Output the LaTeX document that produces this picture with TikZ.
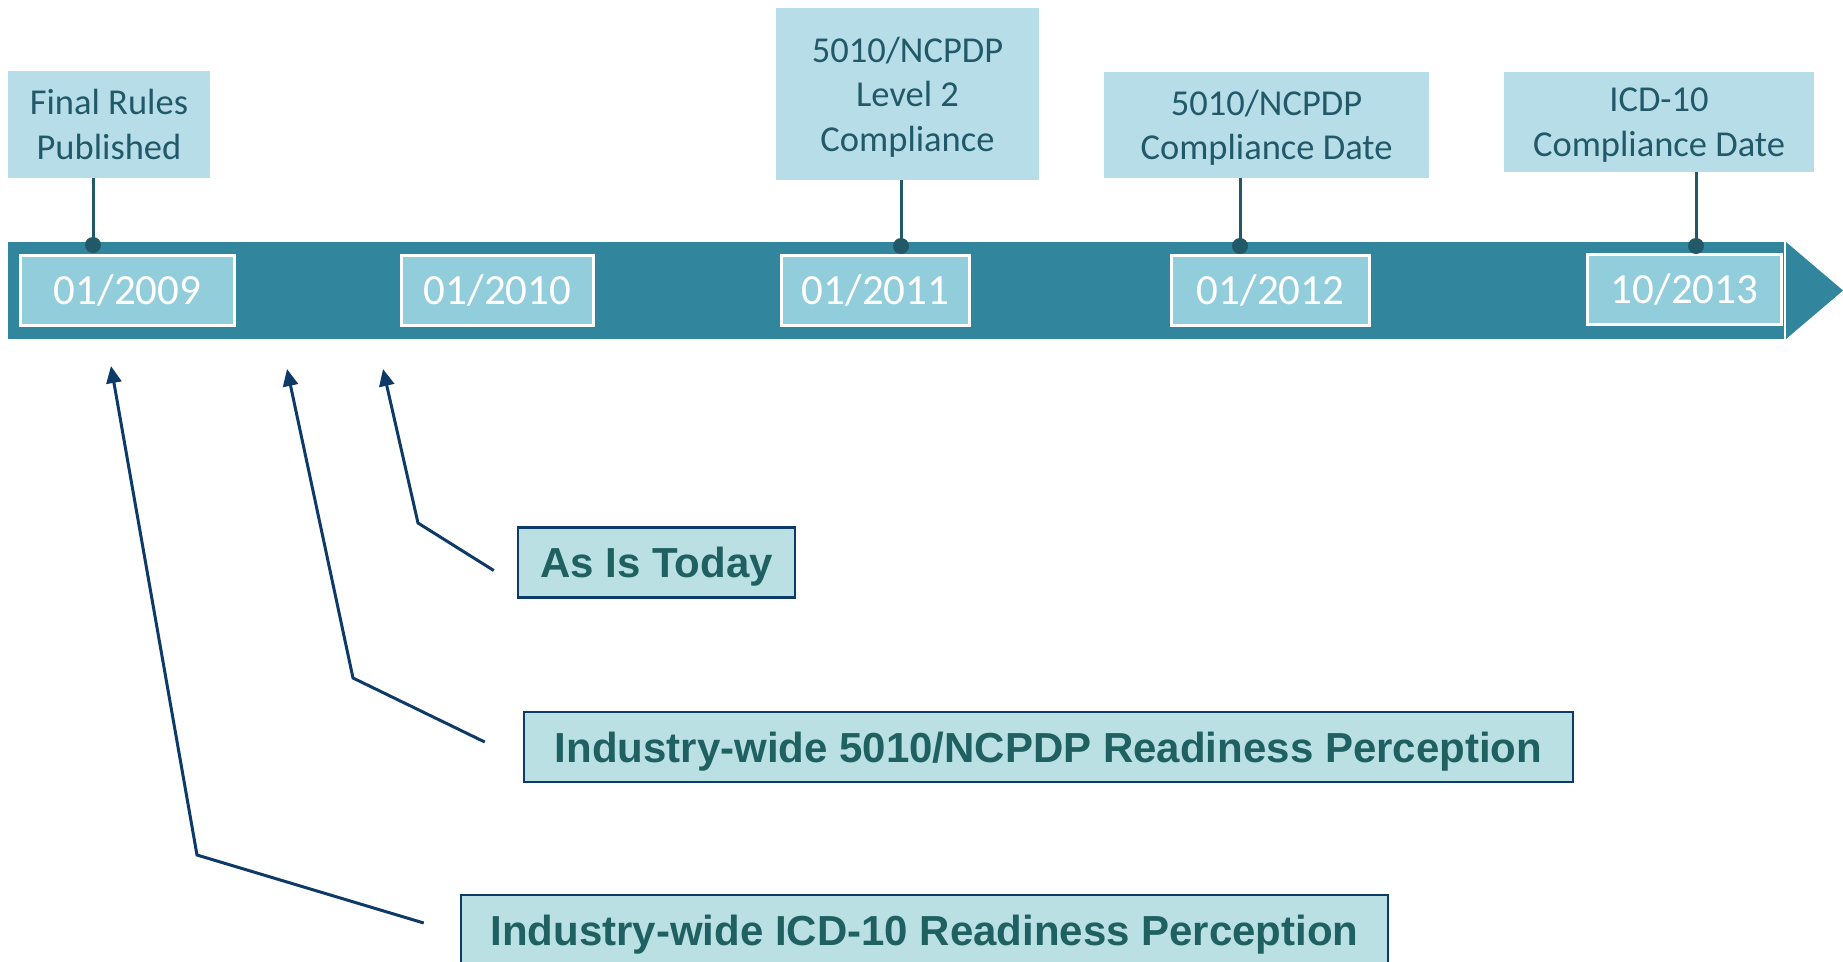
\documentclass[tikz,border=0pt]{standalone}
\usepackage{fontspec}
\setmainfont{Carlito}
\newfontfamily\arialbf{Liberation Sans}[BoldFont={Liberation Sans Bold}]
\usetikzlibrary{arrows.meta}

\definecolor{barfill}{HTML}{31859C}
\definecolor{datefill}{HTML}{92CDDC}
\definecolor{eventfill}{HTML}{B7DEE8}
\definecolor{tealtext}{HTML}{215968}
\definecolor{readyfill}{HTML}{BAE0E4}
\definecolor{readytext}{HTML}{1F6060}
\definecolor{navy}{HTML}{0E3A68}

\tikzset{
  datebox/.style={draw=white, line width=3pt, fill=datefill, text=white, minimum height=70pt, inner sep=0pt, font=\fontsize{43}{50}\selectfont},
  eventbox/.style={fill=eventfill, text=tealtext, align=center, inner sep=0pt, text depth=0pt, font=\fontsize{36.5}{44.5}\selectfont},
  readybox/.style={draw=navy, line width=2.5pt, fill=readyfill, text=readytext, minimum height=70pt, inner sep=0pt, text depth=0pt, font=\arialbf\bfseries\fontsize{42}{50}\selectfont},
  stem/.style={tealtext, line width=3pt},
  pointer/.style={navy, line width=3pt, -{Triangle[length=17pt,width=15pt]}},
}

\begin{document}
\begin{tikzpicture}[x=1pt,y=-1pt]
    \path[use as bounding box, clip] (0,0) rectangle (1843,961);

    \node[fill=barfill, minimum width=1776pt, minimum height=97pt, inner sep=0pt, anchor=north west] (bar) at (8,242) {};
    \fill[barfill] (1786,242) -- (1843,290.5) -- (1786,339) -- cycle;

    \node[datebox, minimum width=214pt] (d1) at (127.5,290.5) {01/2009};
    \node[datebox, minimum width=192pt] (d2) at (497.5,290.5) {01/2010};
    \node[datebox, minimum width=188pt] (d3) at (875.5,290.5) {01/2011};
    \node[datebox, minimum width=198pt] (d4) at (1270.5,290.5) {01/2012};
    \node[datebox, minimum width=194pt] (d5) at (1684.5,289.5) {10/2013};

    \node[eventbox, minimum width=202pt, minimum height=107pt] (e1) at (109,124.5) {Final Rules\\Published};
    \node[eventbox, minimum width=263pt, minimum height=172pt] (e2) at (907.5,94) {5010/NCPDP\\Level 2\\Compliance};
    \node[eventbox, minimum width=325pt, minimum height=106pt] (e3) at (1266.5,125) {5010/NCPDP\\Compliance Date};
    \node[eventbox, minimum width=310pt, minimum height=100pt] (e4) at (1659,122) {ICD-10\\Compliance Date};

    \coordinate (p1) at (93,245);
    \coordinate (p2) at (901,246);
    \coordinate (p3) at (1240,246);
    \coordinate (p4) at (1696,246);
    \foreach \p/\e in {p1/e1,p2/e2,p3/e3,p4/e4}{
      \draw[stem] (\p |- \e.south) -- (\p);
      \fill[tealtext] (\p) circle (8pt);
    }

    \node[readybox, minimum width=277pt] (asis) at (656.5,562.5) {As Is Today};
    \node[readybox, minimum width=1049pt] (r5010) at (1048.5,747) {Industry-wide 5010/NCPDP Readiness Perception};
    \node[readybox, minimum width=927pt] (ricd) at (924.5,930) {Industry-wide ICD-10 Readiness Perception};

    \coordinate (t1) at (111,366);
    \coordinate (t2) at (287,369);
    \coordinate (t3) at (383,369);
    \draw[pointer] ([shift={(-36pt,7pt)}]ricd.west) -- (197,855) -- (t1);
    \draw[pointer] ([shift={(-38pt,5pt)}]r5010.west) -- (353,678) -- (t2);
    \draw[pointer] ([shift={(-23pt,-8pt)}]asis.west) -- (418,523) -- (t3);

\end{tikzpicture}
\end{document}
